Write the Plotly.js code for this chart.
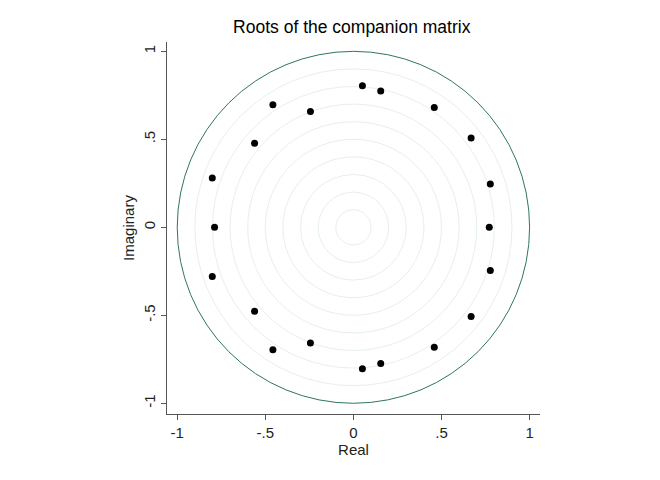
<!DOCTYPE html>
<html>
<head>
<meta charset="utf-8">
<script src="https://cdn.plot.ly/plotly-3.0.1.min.js"></script>
<style>html,body{margin:0;padding:0;background:#fff;}</style>
</head>
<body>
<div id="chart" style="width:660px;height:480px;"></div>
<script>
// Eigenvalues (roots of the companion matrix)
var realParts = [0.051, 0.155, 0.459, 0.668, 0.777, 0.771, 0.777, 0.668, 0.459, 0.155, 0.051,
                 -0.244, -0.457, -0.561, -0.801, -0.788, -0.801, -0.561, -0.457, -0.244];
var imagParts = [0.804, 0.774, 0.681, 0.507, 0.246, 0.000, -0.246, -0.507, -0.681, -0.774, -0.804,
                 0.658, 0.696, 0.477, 0.280, 0.000, -0.280, -0.477, -0.696, -0.658];
var gridRadii = [0.1, 0.2, 0.3, 0.4, 0.5, 0.6, 0.7, 0.8, 0.9];
var unitRadius = 1;
var tickVals = [-1, -0.5, 0, 0.5, 1];
var tickText = ["-1", "-.5", "0", ".5", "1"];

var FONT = "Liberation Sans, Arial, sans-serif";

var shapes = [];
gridRadii.forEach(function (r) {
  shapes.push({type: "circle", xref: "x", yref: "y", x0: -r, x1: r, y0: -r, y1: r,
               line: {color: "#e6f0ed", width: 1}, layer: "below"});
});
shapes.push({type: "circle", xref: "x", yref: "y", x0: -unitRadius, x1: unitRadius,
             y0: -unitRadius, y1: unitRadius, line: {color: "#2f7466", width: 1}, layer: "below"});

var trace = {
  x: realParts, y: imagParts, type: "scatter", mode: "markers",
  marker: {color: "#000000", size: 7}, hoverinfo: "skip"
};

var axisCommon = {
  showgrid: false, zeroline: false, showline: true, linecolor: "#555555", linewidth: 1,
  ticks: "outside", ticklen: 5, tickcolor: "#555555", tickwidth: 1,
  tickvals: tickVals, ticktext: tickText,
  tickfont: {family: FONT, size: 15, color: "#222222"}
};

var layout = {
  width: 660, height: 480,
  paper_bgcolor: "#ffffff", plot_bgcolor: "#ffffff",
  margin: {l: 167, r: 120, t: 42, b: 66},
  showlegend: false,
  title: {text: "Roots of the companion matrix", x: 0.533, xanchor: "center", y: 0.943, yanchor: "middle",
          font: {family: FONT, size: 17.5, color: "#000000"}},
  xaxis: Object.assign({}, axisCommon, {range: [-1.058, 1.059],
          title: {text: "Real", font: {family: FONT, size: 15, color: "#222222"}, standoff: 2}}),
  yaxis: Object.assign({}, axisCommon, {range: [-1.061, 1.053], tickangle: -90,
          title: {text: "Imaginary", font: {family: FONT, size: 15, color: "#222222"}, standoff: 2}}),
  shapes: shapes
};

Plotly.newPlot("chart", [trace], layout, {displayModeBar: false, staticPlot: true});
</script>
</body>
</html>
